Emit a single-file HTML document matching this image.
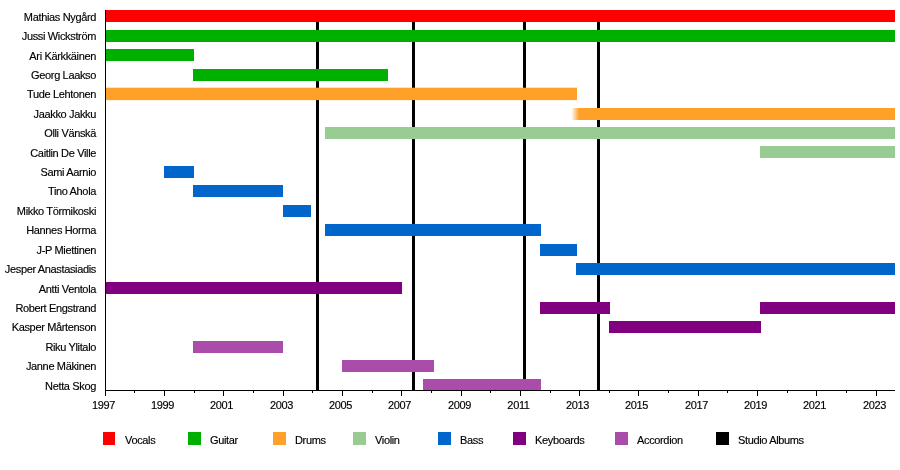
<!DOCTYPE html><html><head><meta charset="utf-8"><style>html,body{margin:0;padding:0;background:#fff;width:900px;height:470px;overflow:hidden}svg{display:block}text{font-family:"Liberation Sans",sans-serif;font-size:11px;letter-spacing:-0.35px;fill:#000;stroke:#000;stroke-width:0.15px}svg{will-change:transform}</style></head><body>
<svg width="900" height="470" viewBox="0 0 900 470">
<rect x="0" y="0" width="900" height="470" fill="#fff"/>
<g shape-rendering="crispEdges">
<rect x="316" y="10" width="3" height="380" fill="#000"/>
<rect x="412" y="10" width="3" height="380" fill="#000"/>
<rect x="523" y="10" width="3" height="380" fill="#000"/>
<rect x="597" y="10" width="3" height="380" fill="#000"/>
<defs><linearGradient id="jg" x1="0" x2="1" y1="0" y2="0"><stop offset="0" stop-color="#ffa028" stop-opacity="0.08"/><stop offset="1" stop-color="#ffa028" stop-opacity="1"/></linearGradient></defs>
<rect x="106" y="10" width="789" height="12" fill="#ff0000"/>
<rect x="106" y="30" width="789" height="12" fill="#00b000"/>
<rect x="106" y="49" width="88" height="12" fill="#00b000"/>
<rect x="193" y="69" width="195" height="12" fill="#00b000"/>
<rect x="106" y="88" width="471" height="12" fill="#ffa028"/>
<rect x="572" y="108" width="7" height="12" fill="url(#jg)"/>
<rect x="579" y="108" width="316" height="12" fill="#ffa028"/>
<rect x="325" y="127" width="570" height="12" fill="#99cc93"/>
<rect x="760" y="146" width="135" height="12" fill="#99cc93"/>
<rect x="164" y="166" width="30" height="12" fill="#0066cc"/>
<rect x="193" y="185" width="90" height="12" fill="#0066cc"/>
<rect x="283" y="205" width="28" height="12" fill="#0066cc"/>
<rect x="325" y="224" width="216" height="12" fill="#0066cc"/>
<rect x="540" y="244" width="37" height="12" fill="#0066cc"/>
<rect x="576" y="263" width="319" height="12" fill="#0066cc"/>
<rect x="106" y="282" width="296" height="12" fill="#800080"/>
<rect x="540" y="302" width="70" height="12" fill="#800080"/>
<rect x="760" y="302" width="135" height="12" fill="#800080"/>
<rect x="609" y="321" width="152" height="12" fill="#800080"/>
<rect x="193" y="341" width="90" height="12" fill="#aa4caa"/>
<rect x="342" y="360" width="92" height="12" fill="#aa4caa"/>
<rect x="423" y="379" width="118" height="12" fill="#aa4caa"/>
<rect x="106" y="87" width="471" height="1" fill="#ffa028" fill-opacity="0.3"/>
<rect x="106" y="100" width="471" height="1" fill="#ffa028" fill-opacity="0.15"/>
<rect x="105" y="10" width="1" height="381" fill="#000"/>
<rect x="105" y="390" width="790" height="1" fill="#000"/>
<rect x="105" y="390" width="1" height="6" fill="#000"/>
<rect x="134" y="390" width="1" height="3" fill="#000"/>
<rect x="164" y="390" width="1" height="6" fill="#000"/>
<rect x="194" y="390" width="1" height="3" fill="#000"/>
<rect x="223" y="390" width="1" height="6" fill="#000"/>
<rect x="253" y="390" width="1" height="3" fill="#000"/>
<rect x="283" y="390" width="1" height="6" fill="#000"/>
<rect x="312" y="390" width="1" height="3" fill="#000"/>
<rect x="342" y="390" width="1" height="6" fill="#000"/>
<rect x="372" y="390" width="1" height="3" fill="#000"/>
<rect x="401" y="390" width="1" height="6" fill="#000"/>
<rect x="431" y="390" width="1" height="3" fill="#000"/>
<rect x="461" y="390" width="1" height="6" fill="#000"/>
<rect x="490" y="390" width="1" height="3" fill="#000"/>
<rect x="520" y="390" width="1" height="6" fill="#000"/>
<rect x="550" y="390" width="1" height="3" fill="#000"/>
<rect x="579" y="390" width="1" height="6" fill="#000"/>
<rect x="609" y="390" width="1" height="3" fill="#000"/>
<rect x="638" y="390" width="1" height="6" fill="#000"/>
<rect x="668" y="390" width="1" height="3" fill="#000"/>
<rect x="698" y="390" width="1" height="6" fill="#000"/>
<rect x="727" y="390" width="1" height="3" fill="#000"/>
<rect x="757" y="390" width="1" height="6" fill="#000"/>
<rect x="787" y="390" width="1" height="3" fill="#000"/>
<rect x="816" y="390" width="1" height="6" fill="#000"/>
<rect x="846" y="390" width="1" height="3" fill="#000"/>
<rect x="876" y="390" width="1" height="6" fill="#000"/>
<rect x="103" y="432" width="12" height="13" fill="#ff0000"/>
<rect x="188" y="432" width="13" height="13" fill="#00b000"/>
<rect x="273" y="432" width="13" height="13" fill="#ffa028"/>
<rect x="353" y="432" width="13" height="13" fill="#99cc93"/>
<rect x="438" y="432" width="13" height="13" fill="#0066cc"/>
<rect x="513" y="432" width="13" height="13" fill="#800080"/>
<rect x="615" y="432" width="13" height="13" fill="#aa4caa"/>
<rect x="716" y="432" width="13" height="13" fill="#000000"/>
</g>
<text x="96" y="20.70" text-anchor="end">Mathias Nygård</text>
<text x="96" y="40.12" text-anchor="end">Jussi Wickström</text>
<text x="96" y="59.54" text-anchor="end">Ari Kärkkäinen</text>
<text x="96" y="78.96" text-anchor="end">Georg Laakso</text>
<text x="96" y="98.38" text-anchor="end">Tude Lehtonen</text>
<text x="96" y="117.80" text-anchor="end">Jaakko Jakku</text>
<text x="96" y="137.22" text-anchor="end">Olli Vänskä</text>
<text x="96" y="156.64" text-anchor="end">Caitlin De Ville</text>
<text x="96" y="176.06" text-anchor="end">Sami Aarnio</text>
<text x="96" y="195.48" text-anchor="end">Tino Ahola</text>
<text x="96" y="214.90" text-anchor="end">Mikko Törmikoski</text>
<text x="96" y="234.32" text-anchor="end">Hannes Horma</text>
<text x="96" y="253.74" text-anchor="end">J-P Miettinen</text>
<text x="96" y="273.16" text-anchor="end">Jesper Anastasiadis</text>
<text x="96" y="292.58" text-anchor="end">Antti Ventola</text>
<text x="96" y="312.00" text-anchor="end">Robert Engstrand</text>
<text x="96" y="331.42" text-anchor="end">Kasper Mårtenson</text>
<text x="96" y="350.84" text-anchor="end">Riku Ylitalo</text>
<text x="96" y="370.26" text-anchor="end">Janne Mäkinen</text>
<text x="96" y="389.68" text-anchor="end">Netta Skog</text>
<text x="103.5" y="409" text-anchor="middle">1997</text>
<text x="162.5" y="409" text-anchor="middle">1999</text>
<text x="221.5" y="409" text-anchor="middle">2001</text>
<text x="281.5" y="409" text-anchor="middle">2003</text>
<text x="340.5" y="409" text-anchor="middle">2005</text>
<text x="399.5" y="409" text-anchor="middle">2007</text>
<text x="459.5" y="409" text-anchor="middle">2009</text>
<text x="518.5" y="409" text-anchor="middle">2011</text>
<text x="577.5" y="409" text-anchor="middle">2013</text>
<text x="636.5" y="409" text-anchor="middle">2015</text>
<text x="696.5" y="409" text-anchor="middle">2017</text>
<text x="755.5" y="409" text-anchor="middle">2019</text>
<text x="814.5" y="409" text-anchor="middle">2021</text>
<text x="874.5" y="409" text-anchor="middle">2023</text>
<text x="125" y="444">Vocals</text>
<text x="210" y="444">Guitar</text>
<text x="295" y="444">Drums</text>
<text x="375" y="444">Violin</text>
<text x="460" y="444">Bass</text>
<text x="535" y="444">Keyboards</text>
<text x="637" y="444">Accordion</text>
<text x="738" y="444">Studio Albums</text>
</svg></body></html>
